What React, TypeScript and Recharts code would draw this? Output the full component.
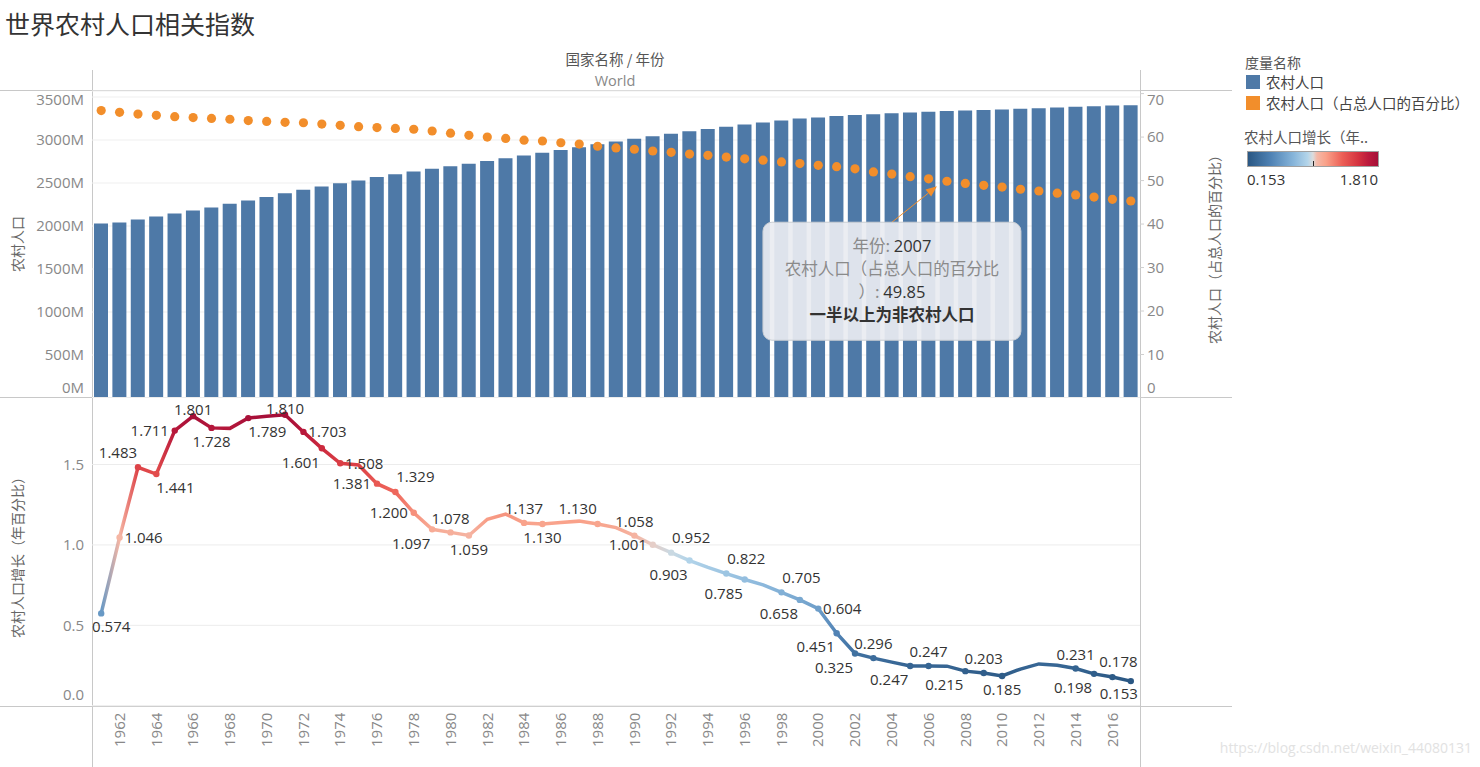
import React from 'react';
import { ComposedChart, LineChart, Bar, Line, XAxis, YAxis, CartesianGrid, ReferenceDot } from 'recharts';

const YEARS = [
  '1961', '1962', '1963', '1964', '1965', '1966', '1967', '1968', '1969', '1970',
  '1971', '1972', '1973', '1974', '1975', '1976', '1977', '1978', '1979', '1980',
  '1981', '1982', '1983', '1984', '1985', '1986', '1987', '1988', '1989', '1990',
  '1991', '1992', '1993', '1994', '1995', '1996', '1997', '1998', '1999', '2000',
  '2001', '2002', '2003', '2004', '2005', '2006', '2007', '2008', '2009', '2010',
  '2011', '2012', '2013', '2014', '2015', '2016', '2017',
];

// 农村人口 (百万)
const RURAL_POP = [
  2030, 2042, 2075, 2110, 2145, 2180, 2216, 2260, 2296, 2338,
  2380, 2422, 2460, 2497, 2530, 2570, 2602, 2634, 2665, 2694,
  2724, 2755, 2788, 2820, 2852, 2884, 2917, 2950, 2983, 3015,
  3045, 3074, 3102, 3128, 3155, 3180, 3205, 3228, 3250, 3262,
  3280, 3291, 3300, 3310, 3320, 3329, 3336, 3343, 3350, 3356,
  3363, 3370, 3378, 3386, 3393, 3400, 3405,
];

// 农村人口（占总人口的百分比）
const RURAL_PCT = [
  66.1, 65.7, 65.3, 65.0, 64.7, 64.5, 64.3, 64.1, 63.8, 63.6,
  63.4, 63.3, 63.0, 62.7, 62.4, 62.2, 62.0, 61.8, 61.4, 60.9,
  60.4, 60.0, 59.7, 59.3, 59.1, 58.7, 58.4, 57.9, 57.5, 57.2,
  56.8, 56.5, 56.1, 55.8, 55.4, 55.0, 54.7, 54.3, 53.9, 53.5,
  53.2, 52.7, 52.0, 51.5, 50.9, 50.4, 49.85, 49.35, 48.9, 48.5,
  48.0, 47.6, 47.1, 46.7, 46.2, 45.7, 45.3,
];

// 农村人口增长（年百分比）
const RURAL_GROWTH = [
  0.574, 1.046, 1.483, 1.441, 1.711, 1.801, 1.728, 1.725, 1.789, 1.800,
  1.810, 1.703, 1.601, 1.508, 1.497, 1.381, 1.329, 1.200, 1.097, 1.078,
  1.059, 1.160, 1.192, 1.137, 1.130, 1.140, 1.148, 1.130, 1.108, 1.058,
  1.001, 0.952, 0.903, 0.860, 0.822, 0.785, 0.752, 0.705, 0.658, 0.604,
  0.451, 0.325, 0.296, 0.271, 0.247, 0.247, 0.246, 0.215, 0.203, 0.185,
  0.228, 0.260, 0.252, 0.231, 0.198, 0.178, 0.153,
];

const LEFT_TICKS = [0, 500, 1000, 1500, 2000, 2500, 3000, 3500];
const RIGHT_TICKS = [0, 10, 20, 30, 40, 50, 60, 70];
const GROWTH_TICKS = [0, 0.5, 1.0, 1.5];
const YEAR_TICKS = [
  '1962', '1964', '1966', '1968', '1970', '1972', '1974', '1976', '1978', '1980',
  '1982', '1984', '1986', '1988', '1990', '1992', '1994', '1996', '1998', '2000',
  '2002', '2004', '2006', '2008', '2010', '2012', '2014', '2016',
];

const ANNOT_YEAR = '2007';

// where Tableau put each mark label (only labelled marks get a dot)
const LABEL_PLACE: Record<string, string> = {
  '1961': 'bs', '1962': 'r', '1963': 'al', '1964': 'br', '1965': 'l', '1966': 'at', '1967': 'b',
  '1969': 'br', '1971': 'at', '1972': 'r', '1973': 'bl', '1974': 'r', '1976': 'l', '1977': 'ar',
  '1978': 'l', '1979': 'bl', '1980': 'a', '1981': 'b', '1984': 'a', '1985': 'b', '1988': 'al',
  '1990': 'a', '1991': 'l', '1992': 'ar', '1993': 'bl', '1995': 'ar', '1996': 'bl', '1998': 'ar',
  '1999': 'bl', '2000': 'r', '2001': 'bl', '2002': 'bl', '2003': 'a', '2005': 'bl', '2006': 'a',
  '2008': 'bl', '2009': 'a', '2010': 'b', '2014': 'a', '2015': 'bl', '2016': 'ac', '2017': 'bc',
};
const LABEL_OFFSET: Record<string, [number, number]> = {
  a: [0, -14], at: [0, -6], b: [0, 14], r: [24, 0], l: [-25, 0],
  ar: [20, -15], al: [-20, -15], br: [19, 14], bl: [-21, 14],
  bs: [10, 13], ac: [6, -15], bc: [-12, 13],
};

const CJK = "'Noto Sans CJK SC', 'Noto Sans', sans-serif";
const NUM = "'Open Sans', 'Noto Sans', sans-serif";
const BLUE = '#4e79a7';
const ORANGE = '#f28e2b';

const BLUE_STOPS: [number, string][] = [[0, '#2a5783'], [0.35, '#4f82b4'], [0.7, '#87b5da'], [0.92, '#b4d5ea'], [1, '#dcdcdc']];
const RED_STOPS: [number, string][] = [[0, '#dcdcdc'], [0.06, '#f4b9a8'], [0.2, '#f9a189'], [0.45, '#ec5f56'], [0.7, '#d4323f'], [0.85, '#bb1a3c'], [1, '#a50f38']];

const hex = (c: string) => [1, 3, 5].map(i => parseInt(c.slice(i, i + 2), 16));
const lerpStops = (stops: [number, string][], t: number) => {
  const tt = Math.max(0, Math.min(1, t));
  for (let i = 1; i < stops.length; i++) {
    if (tt <= stops[i][0]) {
      const [o0, c0] = stops[i - 1];
      const [o1, c1] = stops[i];
      const f = (tt - o0) / (o1 - o0);
      const a = hex(c0), b = hex(c1);
      return `rgb(${a.map((v, k) => Math.round(v + (b[k] - v) * f)).join(',')})`;
    }
  }
  return stops[stops.length - 1][1];
};
const G_MIN = Math.min(...RURAL_GROWTH);
const G_MAX = Math.max(...RURAL_GROWTH);
const G_MID = (G_MIN + G_MAX) / 2;
const growthColor = (v: number) =>
  v <= G_MID ? lerpStops(BLUE_STOPS, (v - G_MIN) / (G_MID - G_MIN)) : lerpStops(RED_STOPS, (v - G_MID) / (G_MAX - G_MID));

const topData = YEARS.map((year, i) => ({ year, pop: RURAL_POP[i], pct: RURAL_PCT[i] }));
const bottomData = YEARS.map((year, i) => ({ year, growth: RURAL_GROWTH[i] }));

const PLOT_W = 1048;
const BAND = PLOT_W / YEARS.length;

const makeTick = (fmt: (v: number) => string, anchor: 'start' | 'end', lo: number, hi: number) => (props: any) => {
  const { x, y, payload } = props;
  const yy = Math.min(Math.max(y, lo), hi);
  return (
    <text x={x} y={yy} dy="0.35em" textAnchor={anchor} fontSize={15} fill="#888" fontFamily={NUM}>
      {fmt(payload.value)}
    </text>
  );
};

const YearTick = (props: any) => {
  const { x, y, payload } = props;
  if (!YEAR_TICKS.includes(payload.value)) return <g />;
  return (
    <text transform={`translate(${x},${y}) rotate(-90)`} dy="0.35em" textAnchor="end" fontSize={15} fill="#888" fontFamily={NUM}>
      {payload.value}
    </text>
  );
};

const GrowthDot = (props: any) => {
  const { cx, cy, index } = props;
  const place = LABEL_PLACE[YEARS[index]];
  if (!place || cx == null) return <g key={`gd${index}`} />;
  const v = RURAL_GROWTH[index];
  const [dx, dy] = LABEL_OFFSET[place];
  return (
    <g key={`gd${index}`}>
      <circle cx={cx} cy={cy} r={3.2} fill={growthColor(v)} />
      <text x={cx + dx} y={cy + dy} dy="0.35em" textAnchor="middle" fontSize={15} fill="#333" fontFamily={NUM}>
        {v.toFixed(3)}
      </text>
    </g>
  );
};

const Annotation = (props: any) => {
  const { cx, cy } = props;
  if (cx == null) return <g />;
  const bx = cx - 184, by = cy + 41, bw = 258, bh = 118;
  const mx = bx + bw / 2;
  const tipX = cx - 10, tipY = cy + 5;
  const ang = Math.atan2(tipY - by, tipX - mx);
  const ah = 11, aw = 4.5;
  const baseX = tipX - ah * Math.cos(ang), baseY = tipY - ah * Math.sin(ang);
  const pts = [
    `${tipX},${tipY}`,
    `${baseX + aw * Math.sin(ang)},${baseY - aw * Math.cos(ang)}`,
    `${baseX - aw * Math.sin(ang)},${baseY + aw * Math.cos(ang)}`,
  ].join(' ');
  const pct = RURAL_PCT[YEARS.indexOf(ANNOT_YEAR)];
  return (
    <g>
      <line x1={mx} y1={by} x2={baseX} y2={baseY} stroke={ORANGE} strokeWidth={1} />
      <polygon points={pts} fill={ORANGE} />
      <rect x={bx} y={by} width={bw} height={bh} rx={9} fill="rgba(233,236,241,0.93)" stroke="#c9cdd3" />
      <g fontFamily={CJK} fontSize={16.5} textAnchor="middle">
        <text x={mx} y={by + 24} dy="0.35em">
          <tspan fill="#8a8a8a">年份: </tspan>
          <tspan fill="#333" fontFamily={NUM}>{ANNOT_YEAR}</tspan>
        </text>
        <text x={mx} y={by + 47} dy="0.35em" fill="#8a8a8a">农村人口（占总人口的百分比</text>
        <text x={mx} y={by + 70} dy="0.35em">
          <tspan fill="#8a8a8a">）: </tspan>
          <tspan fill="#333" fontFamily={NUM}>{pct.toFixed(2)}</tspan>
        </text>
        <text x={mx} y={by + 93} dy="0.35em" fill="#333" fontWeight={700}>一半以上为非农村人口</text>
      </g>
    </g>
  );
};

const legendGradient = `linear-gradient(to right, ${[
  ...BLUE_STOPS.map(([o, c]) => `${c} ${o * 50}%`),
  ...RED_STOPS.map(([o, c]) => `${c} ${50 + o * 50}%`),
].join(', ')})`;

const App: React.FC = () => {
  return (
    <div style={{ position: 'absolute', left: 0, top: 0, width: 1480, height: 767, background: '#fff', overflow: 'hidden' }}>
      {/* frame, headers, axis titles */}
      <svg width={1480} height={767} style={{ position: 'absolute', left: 0, top: 0 }}>
        <text x={5} y={25} dy="0.35em" fontSize={25} fill="#333" fontFamily={CJK}>世界农村人口相关指数</text>
        <text x={615} y={60} dy="0.35em" textAnchor="middle" fontSize={14.5} fill="#555" fontFamily={CJK}>国家名称 / 年份</text>
        <text x={615} y={81} dy="0.35em" textAnchor="middle" fontSize={14.5} fill="#888" fontFamily={NUM}>World</text>
        <line x1={0} y1={90.5} x2={1232} y2={90.5} stroke="#c8c8c8" />
        <line x1={0} y1={397.5} x2={1232} y2={397.5} stroke="#c8c8c8" />
        <line x1={0} y1={706.5} x2={1232} y2={706.5} stroke="#c8c8c8" />
        <line x1={92.5} y1={70} x2={92.5} y2={767} stroke="#c8c8c8" />
        <line x1={1140.5} y1={70} x2={1140.5} y2={767} stroke="#c8c8c8" />
        <text transform="translate(18,244) rotate(-90)" dy="0.35em" textAnchor="middle" fontSize={14} fill="#666" fontFamily={CJK}>农村人口</text>
        <text transform="translate(1215,246) rotate(-90)" dy="0.35em" textAnchor="middle" fontSize={14} fill="#666" fontFamily={CJK}>农村人口（占总人口的百分比）</text>
        <text transform="translate(18,554) rotate(-90)" dy="0.35em" textAnchor="middle" fontSize={14} fill="#666" fontFamily={CJK}>农村人口增长（年百分比）</text>
        <text x={1472} y={748} dy="0.35em" textAnchor="end" fontSize={14} fill="#e2e2e2" fontFamily={NUM}>https://blog.csdn.net/weixin_44080131</text>
      </svg>

      <div style={{ position: 'absolute', left: 0, top: 0 }}>
        <ComposedChart width={1230} height={398} data={topData} margin={{ top: 91, right: 0, bottom: 0, left: 0 }}>
          <CartesianGrid yAxisId="left" vertical={false} stroke="#efefef" />
          <XAxis dataKey="year" hide />
          <YAxis
            yAxisId="left"
            width={92}
            domain={[0, 3570]}
            ticks={LEFT_TICKS}
            interval={0}
            axisLine={false}
            tickLine={false}
            tickSize={0}
            tickMargin={8}
            tick={makeTick(v => `${v}M`, 'end', 100, 388)}
          />
          <YAxis
            yAxisId="right"
            orientation="right"
            width={90}
            domain={[0, 70.6]}
            ticks={RIGHT_TICKS}
            interval={0}
            axisLine={false}
            tickLine={{ stroke: '#d0d0d0' }}
            tickSize={4}
            tickMargin={3}
            tick={makeTick(v => `${v}`, 'start', 100, 388)}
          />
          <Bar yAxisId="left" dataKey="pop" fill={BLUE} barSize={14} isAnimationActive={false} />
          <Line
            yAxisId="right"
            dataKey="pct"
            stroke="none"
            dot={{ r: 4.6, fill: ORANGE, stroke: 'none' }}
            activeDot={false}
            isAnimationActive={false}
          />
          <ReferenceDot
            yAxisId="right"
            x={ANNOT_YEAR}
            y={RURAL_PCT[YEARS.indexOf(ANNOT_YEAR)]}
            r={0}
            shape={Annotation}
          />
        </ComposedChart>
      </div>

      <div style={{ position: 'absolute', left: 0, top: 390 }}>
        <LineChart width={1230} height={377} data={bottomData} margin={{ top: 7.5, right: 90, bottom: 0, left: 0 }}>
          <defs>
            <linearGradient id="growthGrad" x1="0" y1="0" x2="1" y2="0">
              {RURAL_GROWTH.map((v, i) => (
                <stop key={i} offset={`${(i / (RURAL_GROWTH.length - 1)) * 100}%`} stopColor={growthColor(v)} />
              ))}
            </linearGradient>
          </defs>
          <CartesianGrid vertical={false} stroke="#ececec" />
          <XAxis
            dataKey="year"
            height={61.3}
            interval={0}
            padding={{ left: BAND / 2, right: BAND / 2 }}
            axisLine={false}
            tickLine={false}
            tickSize={0}
            tickMargin={7}
            tick={YearTick}
          />
          <YAxis
            width={92}
            domain={[0, 1.917]}
            ticks={GROWTH_TICKS}
            interval={0}
            axisLine={false}
            tickLine={false}
            tickSize={0}
            tickMargin={8}
            tick={makeTick(v => v.toFixed(1), 'end', 16, 305)}
          />
          <Line
            type="linear"
            dataKey="growth"
            stroke="url(#growthGrad)"
            strokeWidth={3.5}
            dot={GrowthDot}
            activeDot={false}
            isAnimationActive={false}
          />
        </LineChart>
      </div>

      {/* legends */}
      <div style={{ position: 'absolute', left: 1245, top: 53, fontFamily: CJK, fontSize: 14, color: '#555', lineHeight: '18px' }}>度量名称</div>
      <div style={{ position: 'absolute', left: 1246, top: 75, width: 14, height: 14, background: BLUE }} />
      <div style={{ position: 'absolute', left: 1266, top: 73, fontFamily: CJK, fontSize: 14.5, color: '#444', lineHeight: '18px' }}>农村人口</div>
      <div style={{ position: 'absolute', left: 1246, top: 96, width: 14, height: 14, background: ORANGE }} />
      <div style={{ position: 'absolute', left: 1266, top: 94, fontFamily: CJK, fontSize: 14.5, color: '#444', lineHeight: '18px', whiteSpace: 'nowrap' }}>农村人口（占总人口的百分比）</div>
      <div style={{ position: 'absolute', left: 1244, top: 128, fontFamily: CJK, fontSize: 14.5, color: '#555', lineHeight: '18px', whiteSpace: 'nowrap' }}>农村人口增长（年..</div>
      <div style={{ position: 'absolute', left: 1247, top: 151, width: 130, height: 14, border: '1px solid #a0a0a0', background: legendGradient }} />
      <div style={{ position: 'absolute', left: 1313, top: 161, width: 1, height: 5, background: '#222' }} />
      <div style={{ position: 'absolute', left: 1247, top: 170, fontFamily: NUM, fontSize: 15, color: '#333', lineHeight: '18px' }}>{G_MIN.toFixed(3)}</div>
      <div style={{ position: 'absolute', left: 1318, width: 60, textAlign: 'right', top: 170, fontFamily: NUM, fontSize: 15, color: '#333', lineHeight: '18px' }}>{G_MAX.toFixed(3)}</div>
    </div>
  );
};

export default App;
